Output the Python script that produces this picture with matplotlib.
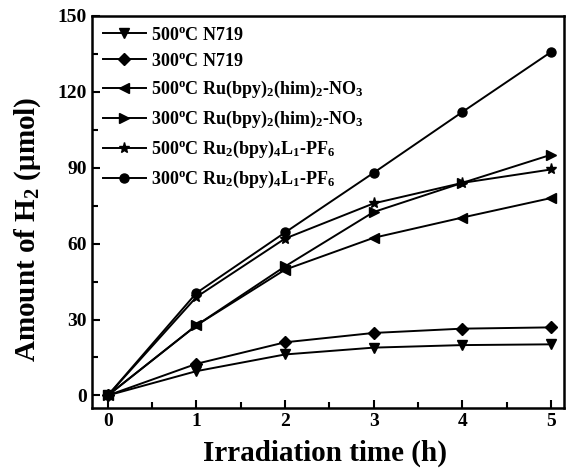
import matplotlib
matplotlib.use("Agg")
import matplotlib.pyplot as plt
from matplotlib.ticker import MultipleLocator

plt.rcParams['font.family'] = ['Liberation Serif', 'DejaVu Serif']
plt.rcParams['font.weight'] = 'bold'
plt.rcParams['mathtext.fontset'] = 'custom'
plt.rcParams['mathtext.rm'] = 'Liberation Serif:bold'
plt.rcParams['mathtext.it'] = 'Liberation Serif:bold'
plt.rcParams['mathtext.bf'] = 'Liberation Serif:bold'

time_h = [0, 1, 2, 3, 4, 5]
labels = [
    r'500$^{\rm o}$C N719',
    r'300$^{\rm o}$C N719',
    r'500$^{\rm o}$C Ru(bpy)$_2$(him)$_2$-NO$_3$',
    r'300$^{\rm o}$C Ru(bpy)$_2$(him)$_2$-NO$_3$',
    r'500$^{\rm o}$C Ru$_2$(bpy)$_4$L$_1$-PF$_6$',
    r'300$^{\rm o}$C Ru$_2$(bpy)$_4$L$_1$-PF$_6$',
]
n719_500 = [0, 9.6, 16.2, 18.9, 19.9, 20.2]
n719_300 = [0, 12.5, 21.0, 24.7, 26.4, 26.9]
ru_500 = [0, 27.7, 49.7, 62.3, 70.3, 78.0]
ru_300 = [0, 27.7, 51.0, 72.5, 84.0, 95.1]
ru2_500 = [0, 38.9, 62.0, 75.9, 84.0, 89.3]
ru2_300 = [0, 40.5, 64.4, 88.0, 112.0, 135.7]
series = [n719_500, n719_300, ru_500, ru_300, ru2_500, ru2_300]
markers = ['v', 'D', '<', '>', '*', 'o']
msizes = [7, 6, 7, 7, 8, 6.5]

fig = plt.figure(figsize=(5.67, 4.68), dpi=100)
ax = fig.add_axes([0.162, 0.128, 0.833, 0.838])

for ys, lab, m, ms in zip(series, labels, markers, msizes):
    ax.plot(time_h, ys, color='black', lw=1.4, marker=m, ms=ms, label=lab)

ax.set_xlim(-0.18, 5.15)
ax.set_ylim(-5, 150)
ax.xaxis.set_major_locator(MultipleLocator(1))
ax.xaxis.set_minor_locator(MultipleLocator(0.5))
ax.yaxis.set_major_locator(MultipleLocator(30))
ax.yaxis.set_minor_locator(MultipleLocator(15))
ax.tick_params(which='both', direction='in', top=False, right=False, width=1.5)
ax.tick_params(which='major', length=6, labelsize=14)
ax.tick_params(which='minor', length=4)
for s in ax.spines.values():
    s.set_linewidth(1.8)
for t in ax.get_xticklabels() + ax.get_yticklabels():
    t.set_fontweight('bold')

ax.set_xlabel('Irradiation time (h)', fontsize=21, fontweight='bold')
ax.set_ylabel(r'Amount of H$_2$ ($\mathrm{\mu}$mol)', fontsize=21, fontweight='bold')
ax.xaxis.set_label_coords(0.494, -0.08)
ax.yaxis.set_label_coords(-0.104, 0.457)

leg = ax.legend(loc='upper left', frameon=False, handlelength=2.4,
                handletextpad=0.3, labelspacing=0.5, borderaxespad=0.2,
                prop={'weight': 'bold', 'size': 13})

fig.savefig('out.png', dpi=100)
